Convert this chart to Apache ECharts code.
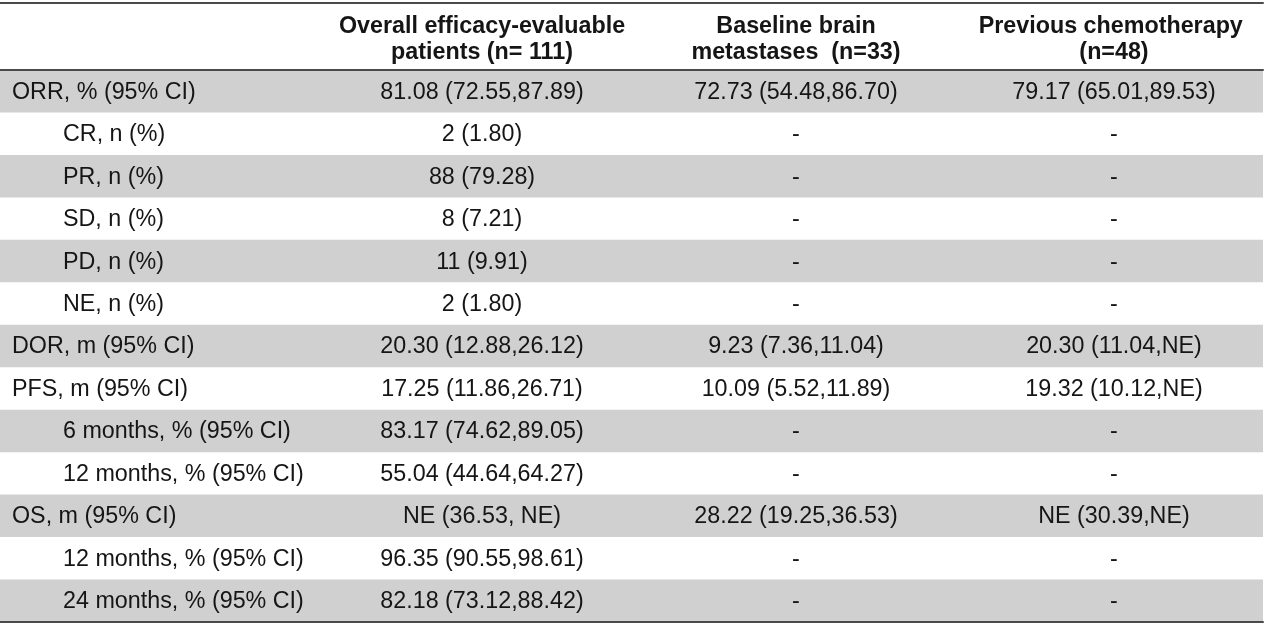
<!DOCTYPE html>
<html><head><meta charset="utf-8">
<script src="https://cdn.jsdelivr.net/npm/echarts@6/dist/echarts.min.js"></script>
<style>html,body{margin:0;padding:0;background:#fff}#c{width:1266px;height:631px}</style>
</head><body><div id="c"></div>
<script>
// ---- data ----
const columnHeaders = [
  'Overall efficacy-evaluable\npatients (n= 111)',
  'Baseline brain\nmetastases  (n=33)',
  'Previous chemotherapy \n(n=48)'
];
const rowLabels = [
  'ORR, % (95% CI)', 'CR, n (%)', 'PR, n (%)', 'SD, n (%)', 'PD, n (%)', 'NE, n (%)',
  'DOR, m (95% CI)', 'PFS, m (95% CI)', '6 months, % (95% CI)', '12 months, % (95% CI)',
  'OS, m (95% CI)', '12 months, % (95% CI)', '24 months, % (95% CI)'
];
const labelLevel = [0, 1, 1, 1, 1, 1, 0, 0, 1, 1, 0, 1, 1];
const overall = [
  '81.08 (72.55,87.89)', '2 (1.80)', '88 (79.28)', '8 (7.21)', '11 (9.91)', '2 (1.80)',
  '20.30 (12.88,26.12)', '17.25 (11.86,26.71)', '83.17 (74.62,89.05)', '55.04 (44.64,64.27)',
  'NE (36.53, NE)', '96.35 (90.55,98.61)', '82.18 (73.12,88.42)'
];
const brainMetastases = [
  '72.73 (54.48,86.70)', '-', '-', '-', '-', '-',
  '9.23 (7.36,11.04)', '10.09 (5.52,11.89)', '-', '-',
  '28.22 (19.25,36.53)', '-', '-'
];
const previousChemo = [
  '79.17 (65.01,89.53)', '-', '-', '-', '-', '-',
  '20.30 (11.04,NE)', '19.32 (10.12,NE)', '-', '-',
  'NE (30.39,NE)', '-', '-'
];

// ---- layout / style ----
const FONT = '"Liberation Sans", Arial, sans-serif';
const FS = 23.3;
const TEXT = '#151515';
const LINE = '#4a4a4a';
const SHADE = '#d0d0d0';
const X_MAX = 1263;
const colCenters = [482, 796, 1114];
const columns = [overall, brainMetastases, previousChemo];

const cellData = [];
columns.forEach((col, c) => col.forEach((v, r) => cellData.push([c, r])));
const bgData = rowLabels.map((_, r) => [0, r]);
const headerData = columnHeaders.map((_, i) => [i, 0]);

const axisHidden = { axisTick: { show: false }, axisLabel: { show: false }, splitLine: { show: false } };
const ruleLine = { show: true, onZero: false, lineStyle: { color: LINE, width: 2 } };

const chart = echarts.init(document.getElementById('c'), null, { renderer: 'canvas' });
chart.setOption({
  animation: false,
  backgroundColor: '#fff',
  grid: [
    { left: 0, right: 3, top: 70, bottom: 9 },
    { left: 0, right: 3, top: 3, height: 67 }
  ],
  xAxis: [
    Object.assign({ gridIndex: 0, type: 'value', min: 0, max: X_MAX, position: 'top', z: 5, axisLine: ruleLine }, axisHidden),
    Object.assign({ gridIndex: 0, type: 'value', min: 0, max: X_MAX, position: 'bottom', z: 5, axisLine: ruleLine }, axisHidden),
    Object.assign({ gridIndex: 1, type: 'value', min: 0, max: X_MAX, position: 'top', z: 5, axisLine: ruleLine }, axisHidden)
  ],
  yAxis: [
    {
      gridIndex: 0, type: 'category', data: rowLabels, inverse: true, z: 5,
      axisLine: { show: false }, axisTick: { show: false }, splitLine: { show: false },
      axisLabel: {
        inside: true, interval: 0, margin: 12,
        color: TEXT, fontSize: FS, fontFamily: FONT,
        formatter: (v, i) => (labelLevel[i] ? '{sub|' + v + '}' : '{top|' + v + '}'),
        rich: {
          top: { color: TEXT, fontSize: FS, fontFamily: FONT, padding: [2, 0, 0, 0] },
          sub: { color: TEXT, fontSize: FS, fontFamily: FONT, padding: [2, 0, 0, 51] }
        }
      }
    },
    { gridIndex: 1, type: 'category', data: ['header'], show: false }
  ],
  series: [
    {
      type: 'custom', name: 'shade', xAxisIndex: 0, yAxisIndex: 0, z: 1, silent: true,
      data: bgData,
      renderItem: (params, api) => {
        const r = api.value(1);
        if (r % 2 !== 0) return null;
        const p = api.coord([0, r]);
        const h = api.size([0, 1])[1];
        const cs = params.coordSys;
        return { type: 'rect', shape: { x: cs.x, y: p[1] - h / 2, width: cs.width, height: h }, style: { fill: SHADE } };
      }
    },
    {
      type: 'custom', name: 'cells', xAxisIndex: 0, yAxisIndex: 0, z: 3, silent: true,
      data: cellData,
      renderItem: (params, api) => {
        const c = api.value(0), r = api.value(1);
        const p = api.coord([colCenters[c], r]);
        return { type: 'text', x: p[0], y: p[1] + 1, style: {
          text: columns[c][r], fill: TEXT, fontSize: FS, fontFamily: FONT, align: 'center', verticalAlign: 'middle' } };
      }
    },
    {
      type: 'custom', name: 'header', xAxisIndex: 2, yAxisIndex: 1, z: 3, silent: true,
      data: headerData,
      renderItem: (params, api) => {
        const i = api.value(0);
        const p = api.coord([colCenters[i], 0]);
        return { type: 'text', x: p[0], y: p[1] + 3, style: {
          text: columnHeaders[i], fill: TEXT, fontSize: FS, fontWeight: 'bold', fontFamily: FONT,
          lineHeight: 26, align: 'center', verticalAlign: 'middle' } };
      }
    }
  ]
});
</script>
</body></html>
